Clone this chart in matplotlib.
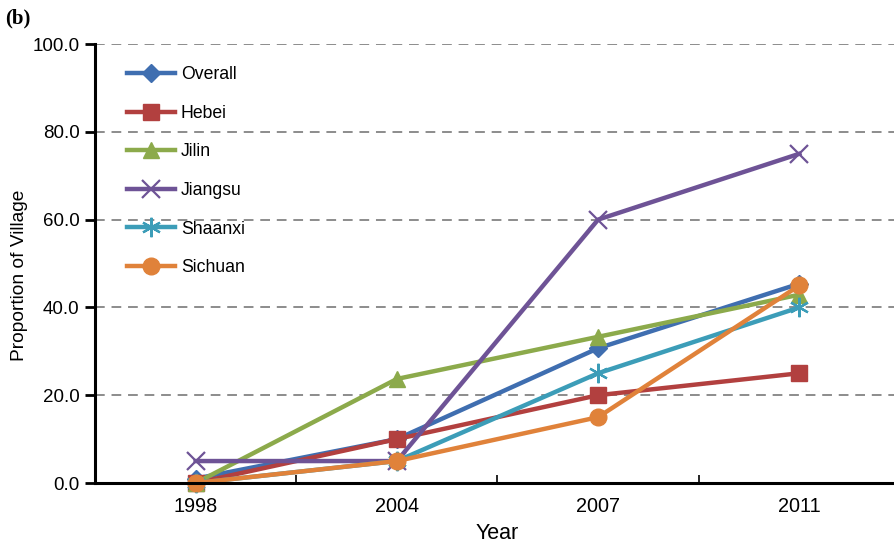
import matplotlib
matplotlib.use("Agg")
import matplotlib.pyplot as plt
from matplotlib.ticker import FixedLocator

plt.rcParams['font.family'] = ['Liberation Sans', 'DejaVu Sans']

years = ['1998', '2004', '2007', '2011']
overall = [1.0, 10.0, 30.7, 45.4]
hebei = [0.0, 10.0, 20.0, 25.0]
jilin = [0.0, 23.7, 33.3, 42.9]
jiangsu = [5.0, 5.0, 60.0, 75.0]
shaanxi = [0.0, 5.0, 25.0, 40.0]
sichuan = [0.0, 5.0, 15.0, 45.0]
y_ticks = [0, 20, 40, 60, 80, 100]

series = [
    ('Overall', overall, '#3F6EB0', 'D', 9, 1.0),
    ('Hebei', hebei, '#B2403F', 's', 11, 1.0),
    ('Jilin', jilin, '#8CAA4B', '^', 12, 1.0),
    ('Jiangsu', jiangsu, '#6E5396', 'x', 13, 1.6),
    ('Shaanxi', shaanxi, '#3C9DB8', (6, 2, 0), 14, 1.6),
    ('Sichuan', sichuan, '#E0823A', 'o', 12, 1.0),
]

fig = plt.figure(figsize=(8.95, 5.43), dpi=100)
ax = fig.add_axes([95/895, 60/543, 805/895, 439/543])

x = list(range(len(years)))
for name, vals, col, mk, ms, mew in series:
    ax.plot(x, vals, color=col, lw=3.2, marker=mk, markersize=ms,
            markeredgewidth=mew, markerfacecolor=col, markeredgecolor=col,
            label=name, clip_on=False, zorder=3)

ax.set_xlim(-0.5, 3.5)
ax.set_ylim(0, 100)
ax.set_xticks(x)
ax.set_xticklabels(years)
ax.xaxis.set_minor_locator(FixedLocator([0.5, 1.5, 2.5]))
ax.tick_params(axis='x', which='major', length=0, labelsize=14.3, pad=10)
ax.tick_params(axis='x', which='minor', direction='in', length=6, width=1.2)
ax.set_yticks(y_ticks)
ax.set_yticklabels([f'{v:.1f}' for v in y_ticks])
ax.tick_params(axis='y', direction='out', length=7, width=2, labelsize=13.5, pad=4)

for v in y_ticks[1:]:
    ax.axhline(v, color='#8C8C8C', lw=1.4, ls=(0, (5, 3.5)), zorder=1)

for s in ['top', 'right']:
    ax.spines[s].set_visible(False)
for s in ['left', 'bottom']:
    ax.spines[s].set_linewidth(2.2)
    ax.spines[s].set_color('black')
    ax.spines[s].set_zorder(4)

ax.set_xlabel('Year', fontsize=15.5, labelpad=5)
ax.set_ylabel('Proportion of Village', fontsize=13.8, labelpad=3)
ax.yaxis.label.set_y((483 - 275) / 439)

leg = ax.legend(loc='upper left', bbox_to_anchor=(0.02, 0.985), frameon=False,
                fontsize=12.7, handlelength=2.75, labelspacing=1.22, handletextpad=0.3)

fig.text(0.006, 0.985, '(b)', fontsize=15, fontweight='bold',
         family=['Liberation Serif', 'DejaVu Serif'], va='top', ha='left')

fig.savefig('out.png', dpi=100)
